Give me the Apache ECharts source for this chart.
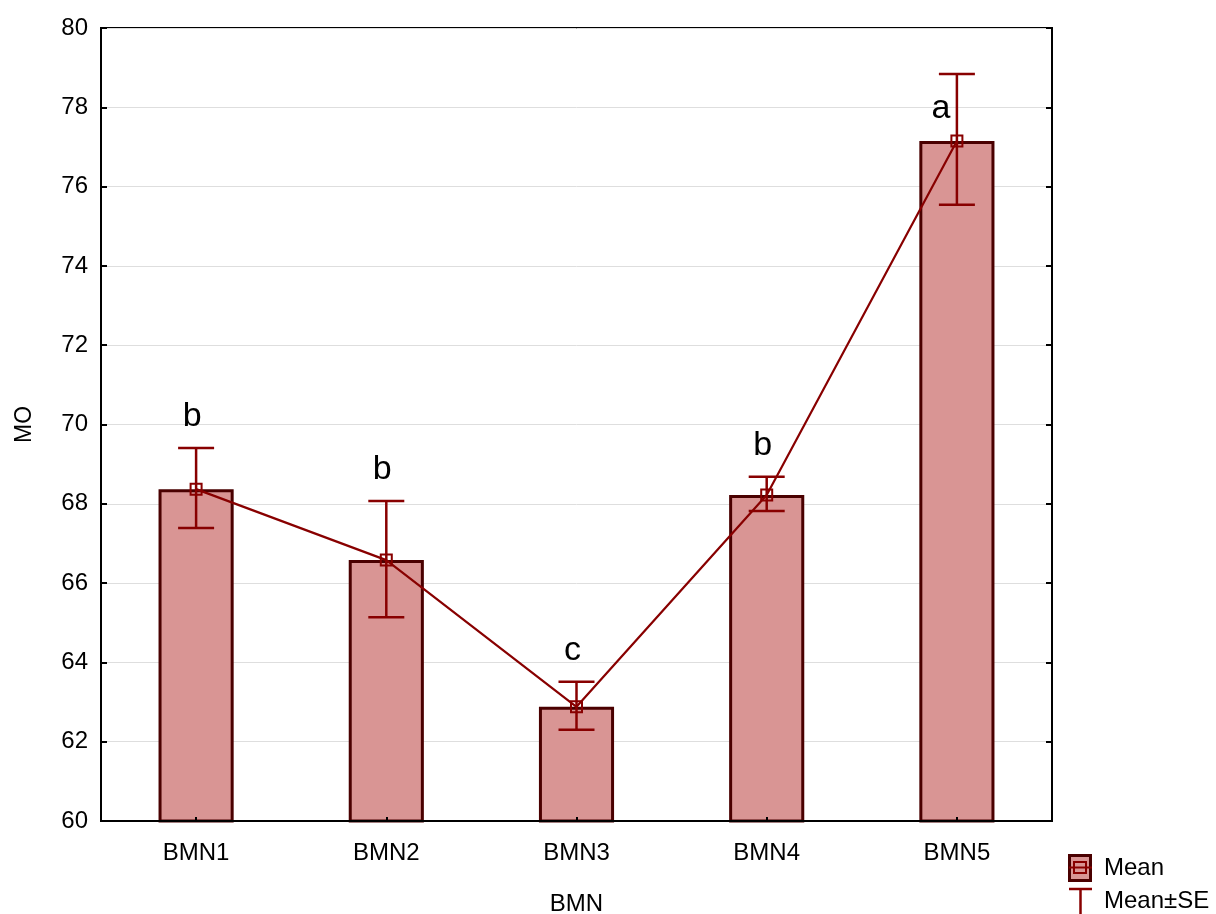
<!DOCTYPE html>
<html>
<head>
<meta charset="utf-8">
<script src="https://cdn.jsdelivr.net/npm/echarts@6/dist/echarts.min.js"></script>
<style>html,body{margin:0;padding:0;background:#fff}#c{width:1216px;height:914px}</style>
</head>
<body>
<div id="c"></div>
<script>
const categories = ['BMN1', 'BMN2', 'BMN3', 'BMN4', 'BMN5'];
const meanValues = [68.37, 66.58, 62.88, 68.22, 77.15];
const upperSE = [69.41, 68.07, 63.51, 68.68, 78.84];
const lowerSE = [67.39, 65.14, 62.30, 67.82, 75.54];
const letters = ['b', 'b', 'c', 'b', 'a'];
const yTicks = { min: 60, max: 80, interval: 2 };

const FONT = 'Liberation Sans, Arial, sans-serif';
const DARK = '#880000';
const chart = echarts.init(document.getElementById('c'), null, { renderer: 'canvas' });

const errData = categories.map((c, i) => [i, lowerSE[i], upperSE[i], meanValues[i]]);

chart.setOption({
  animation: false,
  backgroundColor: '#fff',
  grid: { left: 101, right: 164, top: 28, bottom: 93, show: true, borderColor: '#000', borderWidth: 2, containLabel: false, outerBoundsMode: 'none' },
  xAxis: {
    type: 'category', data: categories,
    name: 'BMN', nameLocation: 'middle', nameGap: 71,
    nameTextStyle: { fontFamily: FONT, fontSize: 24, color: '#000' },
    axisLine: { show: true, lineStyle: { color: '#000', width: 2 } },
    axisTick: { show: true, inside: true, alignWithLabel: true, length: 4, lineStyle: { color: '#000', width: 2 } },
    axisLabel: { fontFamily: FONT, fontSize: 24, color: '#000', margin: 20 },
    splitLine: { show: false },
    z: 10
  },
  yAxis: [{
    type: 'value', min: yTicks.min, max: yTicks.max, interval: yTicks.interval,
    name: 'MO', nameLocation: 'middle', nameGap: 65, nameRotate: 90,
    nameTextStyle: { fontFamily: FONT, fontSize: 23, color: '#000' },
    axisLine: { show: true, lineStyle: { color: '#000', width: 2 } },
    axisTick: { show: true, inside: true, length: 6, lineStyle: { color: '#000', width: 2 } },
    axisLabel: { fontFamily: FONT, fontSize: 24, color: '#000', margin: 13 },
    splitLine: { show: true, lineStyle: { color: '#dedede', width: 1 } }
  }, {
    type: 'value', position: 'right', min: yTicks.min, max: yTicks.max, interval: yTicks.interval,
    axisLine: { show: true, lineStyle: { color: '#000', width: 2 } },
    axisTick: { show: true, inside: true, length: 6, lineStyle: { color: '#000', width: 2 } },
    axisLabel: { show: false },
    splitLine: { show: false }
  }],
  series: [{
    type: 'bar', data: meanValues, barWidth: '39.5%',
    itemStyle: { color: '#d99594', borderColor: '#4a0000', borderWidth: 3 },
    z: 2
  }, {
    type: 'custom', data: errData, z: 5,
    renderItem: function (params, api) {
      const i = api.value(0);
      const lo = api.coord([i, api.value(1)]);
      const hi = api.coord([i, api.value(2)]);
      const mid = api.coord([i, api.value(3)]);
      const half = 18;
      const st = { stroke: DARK, lineWidth: 2.5 };
      const children = [
        { type: 'line', shape: { x1: hi[0], y1: hi[1], x2: lo[0], y2: lo[1] }, style: st },
        { type: 'line', shape: { x1: hi[0] - half, y1: hi[1], x2: hi[0] + half, y2: hi[1] }, style: st },
        { type: 'line', shape: { x1: lo[0] - half, y1: lo[1], x2: lo[0] + half, y2: lo[1] }, style: st }
      ];
      let tx = hi[0] - 4, ty = hi[1] - 14, va = 'bottom';
      if (i === 4) { tx = hi[0] - 16; ty = (hi[1] + mid[1]) / 2 + 1; va = 'middle'; }
      children.push({
        type: 'text',
        style: { x: tx, y: ty, text: letters[i], fill: '#000', font: '34px ' + FONT, textAlign: 'center', textVerticalAlign: va }
      });
      return { type: 'group', children: children };
    }
  }, {
    type: 'line', data: meanValues, z: 6,
    symbol: 'rect', symbolSize: 11, showSymbol: true,
    lineStyle: { color: DARK, width: 2.2 },
    itemStyle: { color: 'rgba(0,0,0,0)', borderColor: DARK, borderWidth: 2 }
  }],
  graphic: [
    { type: 'rect', shape: { x: 1069.5, y: 855.5, width: 21, height: 25 }, style: { fill: '#d99594', stroke: '#4a0000', lineWidth: 3 } },
    { type: 'rect', shape: { x: 1074, y: 862, width: 12, height: 11 }, style: { fill: 'none', stroke: DARK, lineWidth: 2 } },
    { type: 'line', shape: { x1: 1069, y1: 867.5, x2: 1092, y2: 867.5 }, style: { stroke: DARK, lineWidth: 2 } },
    { type: 'text', style: { x: 1104, y: 868, text: 'Mean', font: '24px ' + FONT, fill: '#000', textVerticalAlign: 'middle' } },
    { type: 'line', shape: { x1: 1069, y1: 889, x2: 1092, y2: 889 }, style: { stroke: DARK, lineWidth: 2.5 } },
    { type: 'line', shape: { x1: 1080.5, y1: 889, x2: 1080.5, y2: 914 }, style: { stroke: DARK, lineWidth: 2.5 } },
    { type: 'text', style: { x: 1104, y: 901, text: 'Mean±SE', font: '24px ' + FONT, fill: '#000', textVerticalAlign: 'middle' } }
  ]
});
</script>
</body>
</html>
